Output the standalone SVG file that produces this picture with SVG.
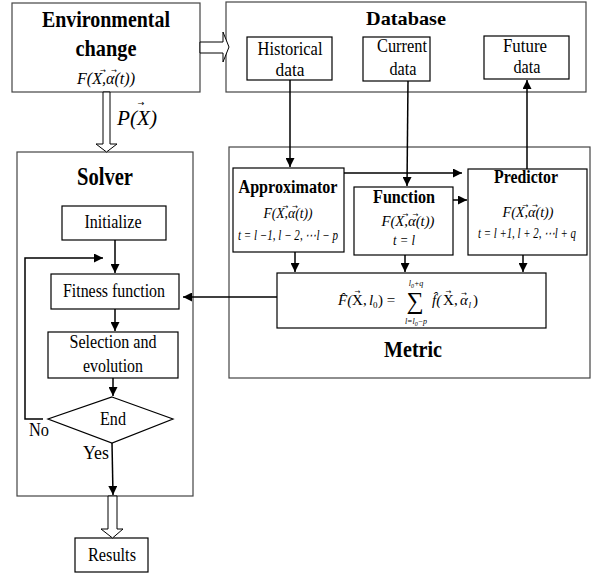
<svg xmlns="http://www.w3.org/2000/svg" width="594" height="573" viewBox="0 0 594 573">
<style>
.box{fill:#fff;stroke:#000;stroke-width:1.2}
.frame{fill:#fff;stroke:#444;stroke-width:1.2}
.t{font-family:"Liberation Serif","Times New Roman",serif;fill:#000;text-anchor:middle}
.s{text-anchor:start}
.b{font-weight:bold}
.i{font-style:italic}
.v{font-family:"DejaVu Sans",sans-serif;font-size:7px;fill:#000;text-anchor:middle}
.ln{fill:none;stroke:#000;stroke-width:1.5}
.hol{fill:#fff;stroke:#000;stroke-width:1}
</style>
<defs>
<marker id="ahb" viewBox="0 0 10 10" refX="10" refY="5" markerWidth="9" markerHeight="9" markerUnits="userSpaceOnUse" orient="auto">
<path d="M0,0 L10,5 L0,10 z" fill="#000"/>
</marker>
</defs>

<g id="env">
<rect class="frame" x="12" y="3" width="188" height="89"/>
<text class="t b" x="106" y="27" font-size="23" textLength="128" lengthAdjust="spacingAndGlyphs">Environmental</text>
<text class="t b" x="106" y="56" font-size="23" textLength="61" lengthAdjust="spacingAndGlyphs">change</text>
<text class="t i" x="106" y="84" font-size="16" textLength="58" lengthAdjust="spacingAndGlyphs">F(X,α(t))</text>
<text class="v" x="103" y="73">→</text>
<text class="v" x="114" y="73">→</text>
</g>

<g id="database">
<rect class="frame" x="226" y="2" width="360" height="90"/>
<text class="t b" x="406" y="25" font-size="19" textLength="80" lengthAdjust="spacingAndGlyphs">Database</text>
</g>
<g id="historical">
<rect class="box" x="247" y="37" width="85" height="43"/>
<text class="t" x="290" y="55" font-size="19" textLength="65" lengthAdjust="spacingAndGlyphs">Historical</text>
<text class="t" x="290" y="76" font-size="19" textLength="29" lengthAdjust="spacingAndGlyphs">data</text>
</g>
<g id="current">
<rect class="box" x="363" y="37" width="67" height="44"/>
<text class="t" x="402" y="52" font-size="19" textLength="50" lengthAdjust="spacingAndGlyphs">Current</text>
<text class="t" x="403" y="75" font-size="19" textLength="27" lengthAdjust="spacingAndGlyphs">data</text>
</g>
<g id="future">
<rect class="box" x="484" y="36" width="85" height="43"/>
<text class="t" x="525" y="52" font-size="19" textLength="44" lengthAdjust="spacingAndGlyphs">Future</text>
<text class="t" x="527" y="73" font-size="19" textLength="27" lengthAdjust="spacingAndGlyphs">data</text>
</g>

<g id="metric">
<rect class="frame" x="229" y="147" width="361" height="231"/>
<text class="t b" x="413" y="357" font-size="23" textLength="58" lengthAdjust="spacingAndGlyphs">Metric</text>
</g>
<g id="approximator">
<rect class="box" x="233" y="168" width="111" height="84"/>
<text class="t b" x="288" y="193" font-size="18" textLength="99" lengthAdjust="spacingAndGlyphs">Approximator</text>
<text class="t i" x="288" y="218" font-size="14" textLength="49" lengthAdjust="spacingAndGlyphs">F(X,α(t))</text>
<text class="v" x="285.5" y="208.5">→</text>
<text class="v" x="295" y="208.5">→</text>
<text class="t i" x="288" y="240" font-size="14" textLength="100" lengthAdjust="spacingAndGlyphs">t = l −1, l − 2, ⋯l − p</text>
</g>
<g id="function">
<rect class="box" x="354" y="187" width="99" height="68"/>
<text class="t b" x="404" y="203" font-size="18" textLength="62" lengthAdjust="spacingAndGlyphs">Function</text>
<text class="t i" x="408" y="226" font-size="14" textLength="53" lengthAdjust="spacingAndGlyphs">F(X,α(t))</text>
<text class="v" x="405.5" y="216.5">→</text>
<text class="v" x="415.5" y="216.5">→</text>
<text class="t i" x="404" y="245" font-size="14" textLength="22" lengthAdjust="spacingAndGlyphs">t = l</text>
</g>
<g id="predictor">
<rect class="box" x="468" y="169" width="119" height="86"/>
<text class="t b" x="526" y="183" font-size="18" textLength="64" lengthAdjust="spacingAndGlyphs">Predictor</text>
<text class="t i" x="528" y="217" font-size="14" textLength="51" lengthAdjust="spacingAndGlyphs">F(X,α(t))</text>
<text class="v" x="525.5" y="207.5">→</text>
<text class="v" x="535" y="207.5">→</text>
<text class="t i" x="527" y="238" font-size="14" textLength="98" lengthAdjust="spacingAndGlyphs">t = l +1, l + 2, ⋯l + q</text>
</g>
<g id="formula">
<rect class="box" x="277" y="273" width="269" height="55"/>
<text class="t s i" x="338" y="305" font-size="15">F̂(</text>
<text class="t s" x="352" y="305" font-size="15">X</text>
<text class="v" x="357.5" y="294">→</text>
<text class="t s" x="363" y="305" font-size="15">,</text>
<text class="t s i" x="369" y="305" font-size="15">l</text>
<text class="t s" x="373" y="308" font-size="9">0</text>
<text class="t s" x="378" y="305" font-size="15">)</text>
<text class="t" x="391" y="305" font-size="15">=</text>
<text class="t" x="415" y="309" font-size="24">∑</text>
<text class="t i" x="416" y="286" font-size="8">l<tspan font-size="6" dy="2">0</tspan><tspan dy="-2">+q</tspan></text>
<text class="t i" x="416" y="324" font-size="8">l=l<tspan font-size="6" dy="2">0</tspan><tspan dy="-2">−p</tspan></text>
<text class="t s i" x="432" y="305" font-size="15">f̂(</text>
<text class="t s" x="443" y="305" font-size="15">X</text>
<text class="v" x="448.5" y="294">→</text>
<text class="t s" x="454" y="305" font-size="15">,</text>
<text class="t s i" x="460" y="305" font-size="15">α</text>
<text class="v" x="464" y="296">→</text>
<text class="t s i" x="468.5" y="308" font-size="9">l</text>
<text class="t s" x="473" y="305" font-size="15">)</text>
</g>

<g id="solver">
<rect class="frame" x="17" y="152" width="176" height="344"/>
<text class="t b" x="105" y="185" font-size="25" textLength="56" lengthAdjust="spacingAndGlyphs">Solver</text>
</g>
<g id="initialize">
<rect class="box" x="62" y="206" width="104" height="34"/>
<text class="t" x="113" y="228" font-size="18" textLength="57" lengthAdjust="spacingAndGlyphs">Initialize</text>
</g>
<g id="fitness">
<rect class="box" x="51" y="274" width="128" height="35"/>
<text class="t" x="114" y="297" font-size="19" textLength="102" lengthAdjust="spacingAndGlyphs">Fitness function</text>
</g>
<g id="selection">
<rect class="box" x="48" y="332" width="130" height="46"/>
<text class="t" x="113" y="348" font-size="18" textLength="87" lengthAdjust="spacingAndGlyphs">Selection and</text>
<text class="t" x="113" y="372" font-size="18" textLength="60" lengthAdjust="spacingAndGlyphs">evolution</text>
</g>
<g id="end">
<polygon class="box" points="112,397 173,419 112,443 48,419"/>
<text class="t" x="113" y="425" font-size="18" textLength="26" lengthAdjust="spacingAndGlyphs">End</text>
</g>
<g id="results">
<rect class="box" x="75" y="538" width="73" height="34"/>
<text class="t" x="112" y="561" font-size="18" textLength="48" lengthAdjust="spacingAndGlyphs">Results</text>
</g>

<g id="connectors">
<polygon class="hol" points="200,42 223,42 223,32 229,47 223,62 223,53 200,53"/>
<polygon class="hol" points="103,92 110,92 110,144 117,144 106.5,152 96,144 103,144"/>
<text class="t i" x="137" y="125" font-size="22" textLength="40" lengthAdjust="spacingAndGlyphs">P(X)</text>
<text class="v" x="141" y="106" style="font-size:8px">→</text>
<polygon class="hol" points="108,496 117,496 117,529 123,529 112.5,538 101,529 108,529"/>

<line class="ln" x1="290" y1="80" x2="290" y2="167" marker-end="url(#ahb)"/>
<line class="ln" x1="408" y1="81" x2="407" y2="186" marker-end="url(#ahb)"/>
<line class="ln" x1="527" y1="169" x2="527" y2="80" marker-end="url(#ahb)"/>
<line class="ln" x1="344" y1="173" x2="462" y2="173" marker-end="url(#ahb)"/>
<line class="ln" x1="453" y1="200" x2="467" y2="200" marker-end="url(#ahb)"/>
<line class="ln" x1="295" y1="252" x2="295" y2="272" marker-end="url(#ahb)"/>
<line class="ln" x1="405" y1="255" x2="405" y2="272" marker-end="url(#ahb)"/>
<line class="ln" x1="523" y1="255" x2="523" y2="272" marker-end="url(#ahb)"/>
<line class="ln" x1="277" y1="297" x2="183" y2="297" marker-end="url(#ahb)"/>
<line class="ln" x1="115" y1="240" x2="115" y2="273" marker-end="url(#ahb)"/>
<polyline class="ln" points="43,419 25,419 25,258 103,258" marker-end="url(#ahb)"/>
<line class="ln" x1="115" y1="309" x2="115" y2="331" marker-end="url(#ahb)"/>
<line class="ln" x1="113" y1="378" x2="113" y2="396" marker-end="url(#ahb)"/>
<line class="ln" x1="112" y1="443" x2="113" y2="495" marker-end="url(#ahb)"/>
<text class="t" x="39" y="436" font-size="18" textLength="20" lengthAdjust="spacingAndGlyphs">No</text>
<text class="t" x="96" y="459" font-size="18" textLength="26" lengthAdjust="spacingAndGlyphs">Yes</text>
</g>
</svg>
